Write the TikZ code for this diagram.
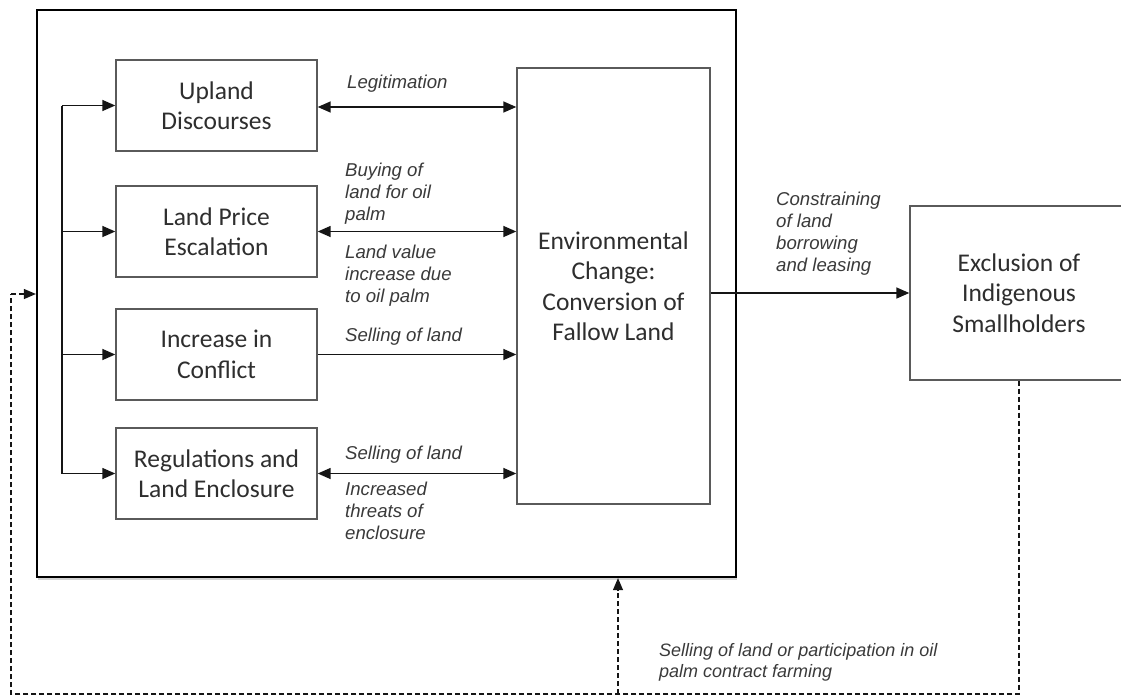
\documentclass[tikz,border=0pt]{standalone}
\usepackage{fontspec}
\usetikzlibrary{arrows.meta,shadows}
\newfontfamily\boxfont{Carlito}
\newfontfamily\lblfont{Liberation Sans}
\definecolor{boxline}{HTML}{5A5A5A}
\definecolor{boxtext}{HTML}{2E2E2E}
\definecolor{lbltext}{HTML}{3A3A3A}
\definecolor{linkcol}{HTML}{151515}
\begin{document}
\begin{tikzpicture}[x=1pt,y=-1pt,
  tip/.style={-{Triangle[length=13pt,width=11pt]}},
  bitip/.style={{Triangle[length=13pt,width=11pt]}-{Triangle[length=13pt,width=11pt]}},
  link/.style={draw=linkcol,line width=1.5pt},
  dashlink/.style={draw=linkcol,line width=1.1pt,dash pattern=on 5pt off 3pt},
  stagebox/.style={draw=boxline,line width=1.4pt,fill=white,inner sep=0pt,
    align=center,text=boxtext,font=\boxfont\fontsize{25.5}{30.5}\selectfont},
  lbl/.style={inner sep=0pt,align=left,text=lbltext,anchor=west,
    font=\lblfont\itshape\fontsize{18.6}{22}\selectfont}]
\path[use as bounding box,clip] (0,0) rectangle (1121,697);

% enclosing frame around the drivers and the land change
\node[draw=black,line width=2.2pt,fill=white,minimum width=699pt,minimum height=567pt,
  drop shadow={shadow xshift=1pt,shadow yshift=-2.5pt,opacity=0.35}] (frame) at (386.5,293.5) {};

% drivers
\node[stagebox,minimum width=201pt,minimum height=91pt] (upland) at (216.5,105.5) {Upland\\Discourses};
\node[stagebox,minimum width=201pt,minimum height=91pt] (price) at (216.5,231.5) {Land Price\\Escalation};
\node[stagebox,minimum width=201pt,minimum height=91pt] (conflict) at (216.5,354.5) {Increase in\\Conflict};
\node[stagebox,minimum width=201pt,minimum height=91pt] (regul) at (216.5,473.5) {Regulations and\\Land Enclosure};

% land conversion
\node[stagebox,minimum width=193pt,minimum height=436pt] (env) at (613.5,286) {Environmental\\Change:\\Conversion of\\Fallow Land};

% outcome
\node[stagebox,minimum width=218pt,minimum height=174pt] (excl) at (1019,293) {Exclusion of\\Indigenous\\Smallholders};

% feed-in trunk on the left
\coordinate (t1) at (62,105.5);
\coordinate (t2) at (62,231.5);
\coordinate (t3) at (62,354.5);
\coordinate (t4) at (62,473.5);
\draw[link] (t1) -- (t4);
\draw[link,tip] (t1) -- (upland.west);
\draw[link,tip] (t2) -- (price.west);
\draw[link,tip] (t3) -- (conflict.west);
\draw[link,tip] (t4) -- (regul.west);

% links between drivers and land change
\draw[link,bitip] ([yshift=-1.5pt]upland.east) -- ([yshift=-1.5pt]upland.east -| env.west);
\draw[link,bitip] (price.east) -- (price.east -| env.west);
\draw[link,tip] (conflict.east) -- (conflict.east -| env.west);
\draw[link,bitip] (regul.east) -- (regul.east -| env.west);

\node[lbl] (l1) at (347,84) {Legitimation};
\node[lbl] (l2) at (345,194) {Buying of\\land for oil\\palm};
\node[lbl] (l3) at (345,275.5) {Land value\\increase due\\to oil palm};
\node[lbl] (l4) at (345,337) {Selling of land};
\node[lbl] (l5) at (345,455) {Selling of land};
\node[lbl] (l6) at (345,511) {Increased\\threats of\\enclosure};

% land change to exclusion
\draw[link,tip] (env.east |- excl.west) -- (excl.west);
\node[lbl] (l7) at (776,234) {Constraining\\of land\\borrowing\\and leasing};

% feedback loop
\coordinate (loopBL) at (11,694);
\coordinate (loopTL) at (11,294);
\coordinate (branch) at (618,694);
\draw[dashlink] (excl.south) |- (loopBL) -- (loopTL);
\draw[dashlink,-{Triangle[length=12pt,width=10pt]}] (loopTL) -- (loopTL -| frame.west);
\draw[dashlink,-{Triangle[length=12pt,width=10pt]}] (branch) -- (branch |- frame.south);
\node[lbl,font=\lblfont\itshape\fontsize{18}{20.5}\selectfont] (l8) at (659,662.5) {Selling of land or participation in oil\\palm contract farming};
\end{tikzpicture}
\end{document}
